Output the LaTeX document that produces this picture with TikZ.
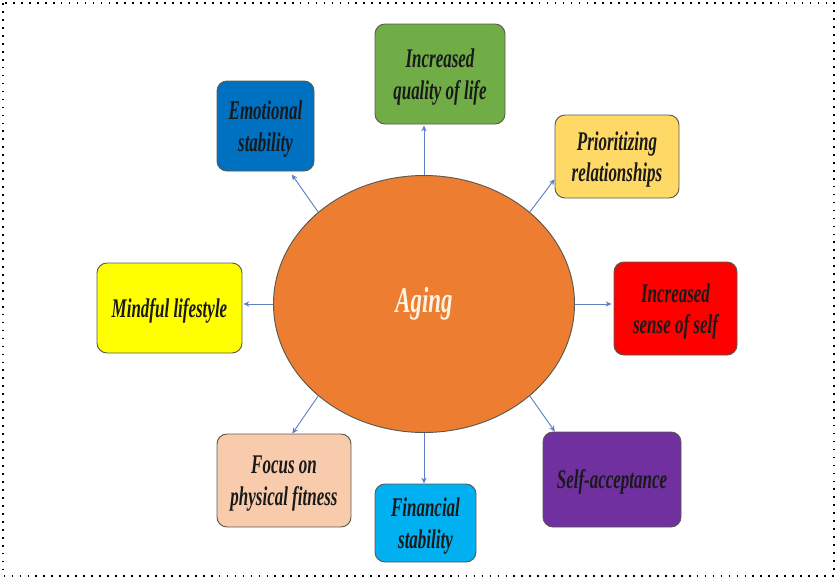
\documentclass[tikz,border=0pt]{standalone}
\usepackage{fontspec}
\usepackage{xcolor}
\usetikzlibrary{arrows.meta}
\usetikzlibrary{shapes.geometric}
\newfontfamily\boxfont{Liberation Serif}[FakeStretch=0.63]
\newcommand{\px}{0.03cm}
\definecolor{agingorange}{HTML}{ED7D31}
\definecolor{agingtext}{HTML}{FFF3E3}
\definecolor{boxedge}{HTML}{5A5A50}
\definecolor{linkblue}{HTML}{5F80C4}
\definecolor{emoblue}{HTML}{0070C0}
\definecolor{lifegreen}{HTML}{70AD47}
\definecolor{relgold}{HTML}{FFD966}
\definecolor{selfred}{HTML}{FF0000}
\definecolor{mindyellow}{HTML}{FFFF00}
\definecolor{fitpeach}{HTML}{F8CBAD}
\definecolor{moneyblue}{HTML}{00B0F0}
\definecolor{acceptpurple}{HTML}{7030A0}
\tikzset{
  outcome box/.style = {draw=boxedge, line width=0.8pt, rounded corners=0.3cm,
    align=center, inner sep=0pt, text depth=0pt, text=black!90}
}
\tikzset{
  every node/.style = {font = \boxfont\bfseries\itshape\fontsize{23}{27}\selectfont}
}
\tikzset{
    >={Stealth[length=5pt, width=4.5pt]}
}
\tikzset{
  link/.style = {->, draw=linkblue, line width=0.8pt}
}

\begin{document}
\begin{tikzpicture}[x=\px, y=-\px]
  \useasboundingbox (0,0) rectangle (837,579);
  \draw[line width=1.5pt, dash pattern=on 1.5pt off 5.3pt]
    (3,3) rectangle (834,576);

  \node[ellipse, draw=boxedge, line width=0.8pt, fill=agingorange,
    minimum width=301*\px, minimum height=257*\px, inner sep=0pt,
    text=agingtext, font=\boxfont\bfseries\itshape\fontsize{31}{36}\selectfont]
    (aging) at (424,304) {Aging};

  \node[outcome box, fill=emoblue, minimum width=97*\px, minimum height=90*\px]
    (emo) at (265.5,126) {Emotional\\stability};
  \node[outcome box, fill=lifegreen, minimum width=130*\px, minimum height=100*\px]
    (life) at (440,74) {Increased\\quality of life};
  \node[outcome box, fill=relgold, minimum width=124*\px, minimum height=83*\px]
    (rel) at (617,156.5) {Prioritizing\\relationships};
  \node[outcome box, fill=selfred, minimum width=123*\px, minimum height=93*\px]
    (sense) at (675.5,308.5) {Increased\\sense of self};
  \node[outcome box, fill=mindyellow, minimum width=145*\px, minimum height=90*\px]
    (mind) at (169.5,308) {Mindful lifestyle};
  \node[outcome box, fill=fitpeach, minimum width=134*\px, minimum height=93*\px]
    (fit) at (284,480.5) {Focus on\\physical fitness};
  \node[outcome box, fill=moneyblue, minimum width=101*\px, minimum height=78*\px]
    (money) at (425.5,523) {Financial\\stability};
  \node[outcome box, fill=acceptpurple, minimum width=138*\px, minimum height=95*\px]
    (accept) at (612,479.5) {Self-acceptance};

  % links out of the ellipse
  \draw[link] (aging.139) -- ([yshift=-3*\px]emo.-60);
  \draw[link] (aging.north) -- ([yshift=-1*\px]aging.north |- life.south);
  \draw[link] (aging.41) -- (rel.200);
  \draw[link] (aging.east) -- ([xshift=-2*\px]aging.east -| sense.west);
  \draw[link] (aging.west) -- ([xshift=1*\px]aging.west -| mind.east);
  \draw[link] (aging.221) -- (fit.80);
  \draw[link] (aging.south) -- (aging.south |- money.north);
  \draw[link] (aging.319) -- (accept.140);
\end{tikzpicture}
\end{document}
